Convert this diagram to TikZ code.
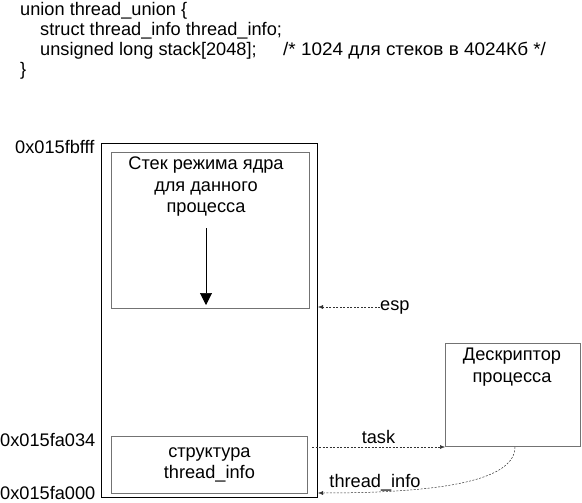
\documentclass[tikz,border=0pt]{standalone}
\usepackage{fontspec}
\setmainfont{Liberation Sans}
\usetikzlibrary{arrows.meta}
\begin{document}
\begin{tikzpicture}[x=1pt,y=-1pt,
  txt/.style={font=\fontsize{18.2}{21.5}\selectfont, inner sep=0pt},
  box/.style={draw=black!55, line width=0.8pt},
  outer/.style={draw=black, line width=1pt},
  dashline/.style={draw=black!80, line width=0.5pt, dash pattern=on 2pt off 1.5pt, -{Latex[length=5pt,width=4pt]}}]
\useasboundingbox (0,0) rectangle (582,503);
% code
\node[txt, anchor=west] (c1) at (20,11) {union thread\_union \{};
\node[txt, anchor=west] (c2) at (40,31) {struct thread\_info thread\_info;};
\node[txt, anchor=west] (c3) at (40,51) {unsigned long stack[2048];};
\node[txt, anchor=west, xscale=1.04] (c3b) at (283,51) {/* 1024 для стеков в 4024Кб */};
\node[txt, anchor=west] (c4) at (20,71) {\}};
% boxes
\draw[outer] (101,144) rectangle (317,497);
\node[box, minimum width=198pt, minimum height=156pt, anchor=north west, inner sep=0pt] (stack) at (111,152) {};
\node[txt, align=center, anchor=north] (stackt) at (206,157) {Стек режима ядра\\для данного\\процесса};
\coordinate (arrS) at (206,228);
\coordinate (arrE) at (206,305);
\draw[line width=0.6pt, -{Triangle[length=12pt,width=12pt]}] (arrS) -- (arrE);
\node[box, minimum width=196pt, minimum height=57pt, anchor=north west, inner sep=0pt, txt, align=center] (ti) at (111,436) {структура\\thread\_info};
\node[box, minimum width=135pt, minimum height=103pt, anchor=north west, inner sep=0pt] (desc) at (445,343) {};
\node[txt, align=center, anchor=north] (desct) at (512,348) {Дескриптор\\процесса};
% labels
\node[txt, anchor=west] (a1) at (15,147) {0x015fbfff};
\node[txt, anchor=west] (a2) at (0,440) {0x015fa034};
\node[txt, anchor=west] (a3) at (0,493) {0x015fa000};
% esp
\node[txt, anchor=west] (esp) at (380,307) {esp};
\coordinate (espE) at (318,307);
\draw[dashline] (esp.west) -- (espE);
% task
\coordinate (taskS) at (312,447);
\draw[dashline] (taskS) -- (desc.south west |- taskS) node[midway, above=3pt, txt] (taskl) {task};
% thread_info
\coordinate (tiS) at (515,447);
\coordinate (tiE) at (318,493);
\draw[dashline] (tiS) .. controls (515,485) and (420,493) .. (tiE);
\node[txt] (til) at (375,483) {thread\_info};
\end{tikzpicture}
\end{document}
